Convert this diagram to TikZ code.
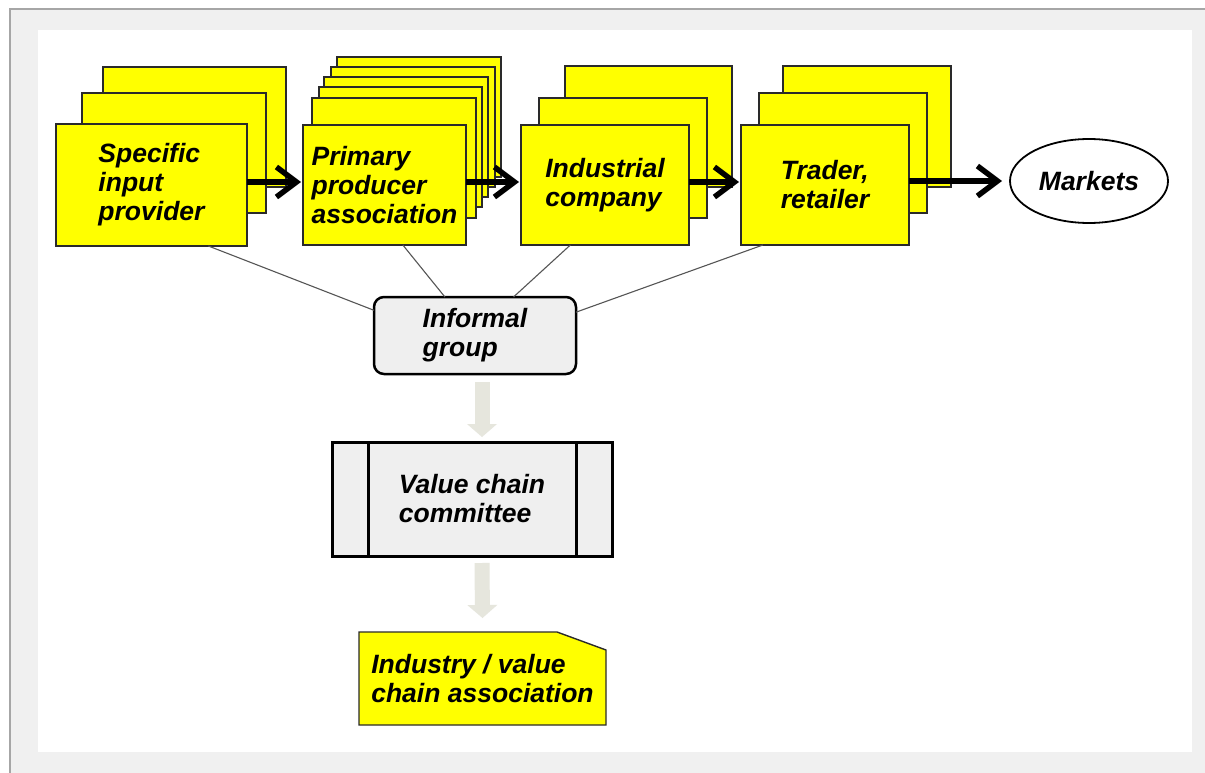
\documentclass[tikz,border=0pt]{standalone}
\usepackage{fontspec}
\setmainfont{Liberation Sans}
\usetikzlibrary{arrows.meta,backgrounds,calc,shapes.geometric}
\definecolor{yel}{HTML}{FFFF00}
\definecolor{boxline}{HTML}{2A2A2A}
\definecolor{panel}{HTML}{F0F0F0}
\definecolor{frameline}{HTML}{A6A6A6}
\definecolor{lightfill}{HTML}{EFEFEF}
\definecolor{arrowgray}{HTML}{E6E6DD}
\definecolor{linkgray}{HTML}{555555}
\newcommand{\lblfont}{\fontsize{26.5}{29}\selectfont\bfseries\itshape}
\tikzset{
  ybox/.style={draw=boxline, line width=1.4pt, fill=yel, inner sep=0pt, outer sep=0pt, align=left, font=\lblfont},
  grouped/.style={draw=black, line width=2.5pt, fill=lightfill, rounded corners=10pt, inner sep=0pt, outer sep=0pt, align=left, font=\lblfont},
  committee/.style={draw=black, line width=3pt, fill=lightfill, inner sep=0pt, outer sep=0pt, align=left, font=\lblfont},
  plainlabel/.style={inner sep=0pt, outer sep=0pt, align=left, font=\lblfont},
  market/.style={ellipse, draw=black, line width=1.8pt, fill=white, inner sep=0pt, outer sep=0pt, font=\lblfont},
  flow/.style={line width=5.5pt, -{Straight Barb[length=20pt,width=30pt]}},
  link/.style={draw=linkgray, line width=1.1pt},
  blockarrow/.style={draw=arrowgray, line width=15pt, -{Triangle[length=13pt,width=30pt,line width=0pt]}}
}
\begin{document}
\begin{tikzpicture}[x=1pt,y=-1pt]
\useasboundingbox (0,0) rectangle (1205,773);
\begin{scope}[on background layer]
  \fill[white] (0,0) rectangle (1205,773);
  \fill[panel] (10,10) rectangle (1205,773);
  \draw[frameline, line width=2pt] (9,9.5) -- (1205,9.5);
  \draw[frameline, line width=2pt] (9.5,9) -- (9.5,773);
  \fill[white] (38,30) rectangle (1192,752);
\end{scope}

% group 1
\node[ybox, minimum width=183pt, minimum height=120pt] (s1c) at (194.5,127) {};
\node[ybox, minimum width=184pt, minimum height=120pt] (s1b) at (174,153) {};
\node[ybox, minimum width=191pt, minimum height=122pt] (s1) at (151.5,185) {Specific\\input\\provider};
% group 2
\node[ybox, minimum width=164pt, minimum height=120pt] (p1e) at (419,117) {};
\node[ybox, minimum width=164pt, minimum height=120pt] (p1d) at (413,127) {};
\node[ybox, minimum width=164pt, minimum height=120pt] (p1c) at (406,137) {};
\node[ybox, minimum width=163pt, minimum height=120pt] (p1bb) at (400.5,147) {};
\node[ybox, minimum width=164pt, minimum height=120pt] (p1b) at (394,158) {};
\node[ybox, minimum width=163pt, minimum height=120pt] (p1) at (384.5,185) {Primary\\producer\\association};
% group 3
\node[ybox, minimum width=167pt, minimum height=121pt] (i1c) at (648.5,126.5) {};
\node[ybox, minimum width=168pt, minimum height=120pt] (i1b) at (623,158) {};
\node[ybox, minimum width=168pt, minimum height=120pt] (i1) at (605,185) {Industrial\\company};
% group 4
\node[ybox, minimum width=168pt, minimum height=121pt] (t1c) at (867,126.5) {};
\node[ybox, minimum width=168pt, minimum height=120pt] (t1b) at (843,153) {};
\node[ybox, minimum width=168pt, minimum height=120pt] (t1) at (825,185) {Trader,\\retailer};

\node[market, minimum width=158pt, minimum height=84pt] (mk) at (1089,181) {Markets};

% flow arrows
\draw[flow, shorten >=2pt] ([yshift=3pt]s1.east) -- ([yshift=3pt]p1.west);
\draw[flow, shorten >=2pt] ([yshift=3pt]p1.east) -- ([yshift=3pt]i1.west);
\draw[flow, shorten >=2pt] ([yshift=3pt]i1.east) -- ([yshift=3pt]t1.west);
\draw[flow, shorten >=8pt] ([yshift=4pt]t1.east) -- (mk.west);

% informal group
\node[grouped, minimum width=202pt, minimum height=77pt] (ig) at (475,335.5) {Informal\\group};
\draw[link] (s1.-47) -- (ig.166);
\draw[link] (p1.-73) -- (ig.128);
\draw[link] (i1.-120) -- (ig.45);
\draw[link] (t1.-136) -- (ig.13);

% committee
\node[committee, minimum width=280pt, minimum height=114pt] (vcc) at (472,499) {Value chain\\committee};
\draw[line width=3pt] ([xshift=36pt]vcc.north west) -- ([xshift=36pt]vcc.south west);
\draw[line width=3pt] ([xshift=-36pt]vcc.north east) -- ([xshift=-36pt]vcc.south east);

% association
\node[plainlabel, minimum width=247pt, minimum height=93pt] (ind) at (482.5,678.5) {Industry / value\\chain association};
\begin{scope}[on background layer]
  \filldraw[fill=yel, draw=boxline, line width=1.4pt] (ind.south west) -- (ind.north west) -- ([xshift=-49pt]ind.north east) -- ([yshift=-18pt]ind.north east) -- (ind.south east) -- cycle;
\end{scope}

% block arrows
\draw[blockarrow] ([xshift=7pt,yshift=-8pt]ig.south) -- ([xshift=10pt,yshift=5pt]vcc.north);
\draw[blockarrow] ([xshift=10pt,yshift=-7pt]vcc.south) -- ([yshift=14pt]ind.north);
\end{tikzpicture}
\end{document}
